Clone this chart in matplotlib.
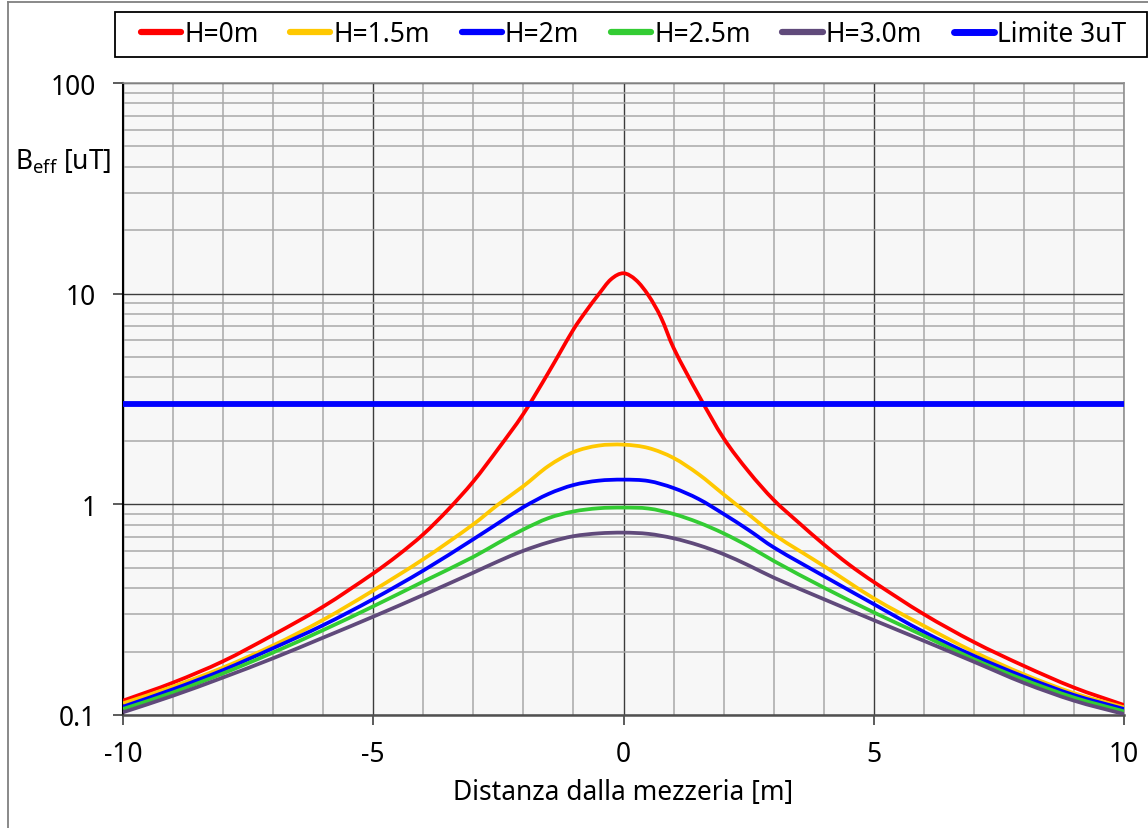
import matplotlib
matplotlib.use("Agg")
import numpy as np
import matplotlib.pyplot as plt
from matplotlib.lines import Line2D
from matplotlib.patches import Rectangle, PathPatch
from matplotlib.path import Path
from matplotlib.ticker import LogLocator, MultipleLocator, FixedLocator

plt.rcParams['font.family'] = ['Noto Sans', 'DejaVu Sans']

# ---- data ----
x_red = [-10, -9, -8, -7, -6, -5, -4.5, -4, -3.5, -3, -2.5, -2, -1.5, -1, -0.75, -0.5, -0.25,
         0, 0.25, 0.5, 0.75, 1, 1.5, 2, 2.5, 3, 3.5, 4, 4.5, 5, 6, 7, 8, 9, 10]
h0 = [0.117, 0.1425, 0.180, 0.240, 0.327, 0.47, 0.575, 0.721, 0.946, 1.285, 1.84, 2.69, 4.22,
      6.76, 8.25, 9.9, 11.7, 12.5, 11.6, 9.8, 7.7, 5.53, 3.30, 2.06, 1.43, 1.05, 0.819, 0.646,
      0.519, 0.428, 0.301, 0.222, 0.171, 0.135, 0.1115]

x_other = [-10, -9, -8, -7, -6, -5, -4, -3, -2.5, -2, -1.5, -1, -0.5, 0, 0.5, 1, 1.5, 2,
           2.5, 3, 4, 5, 6, 7, 8, 9, 10]
h15 = [0.1136, 0.1365, 0.168, 0.214, 0.283, 0.39, 0.549, 0.804, 1.0, 1.22, 1.52, 1.77, 1.90,
       1.92, 1.85, 1.66, 1.39, 1.115, 0.896, 0.721, 0.51, 0.358, 0.265, 0.1995, 0.156, 0.127, 0.1087]
h2 = [0.1095, 0.1325, 0.1634, 0.2077, 0.267, 0.355, 0.485, 0.683, 0.815, 0.97, 1.12, 1.235, 1.295,
      1.31, 1.29, 1.195, 1.06, 0.90, 0.755, 0.625, 0.457, 0.336, 0.248, 0.191, 0.152, 0.1244, 0.1068]
h25 = [0.1068, 0.128, 0.1576, 0.198, 0.253, 0.328, 0.43, 0.563, 0.657, 0.76, 0.86, 0.925,
       0.958, 0.965, 0.955, 0.90, 0.82, 0.728, 0.632, 0.539, 0.403, 0.307, 0.238, 0.184, 0.147,
       0.121, 0.104]
h3 = [0.103, 0.1235, 0.1507, 0.186, 0.233, 0.293, 0.3715, 0.474, 0.537, 0.602, 0.66, 0.706, 0.728,
      0.734, 0.724, 0.69, 0.64, 0.58, 0.513, 0.449, 0.355, 0.282, 0.225, 0.179, 0.142, 0.117, 0.101]

limit_x = [-10, 10]
limit_y = [3, 3]

labels = ['H=0m', 'H=1.5m', 'H=2m', 'H=2.5m', 'H=3.0m', 'Limite 3uT']
colors = ['#ff0000', '#ffc800', '#0000ff', '#33cc33', '#604a7b', '#0000ff']

x_ticks = [-10, -5, 0, 5, 10]
y_ticks = [0.1, 1, 10, 100]
y_ticklabels = ['0.1', '1', '10', '100']


def smooth_path(xs, ys):
    """Smoothed line (like a spreadsheet 'smooth line') through the data points,
    built as cubic Bezier segments in (x, log10 y) space."""
    x = np.asarray(xs, float)
    l = np.log10(np.asarray(ys, float))
    n = len(x)
    m = np.empty(n)
    m[0] = (l[1] - l[0]) / (x[1] - x[0])
    m[-1] = (l[-1] - l[-2]) / (x[-1] - x[-2])
    for i in range(1, n - 1):
        m[i] = (l[i + 1] - l[i - 1]) / (x[i + 1] - x[i - 1])
    verts = [(x[0], l[0])]
    codes = [Path.MOVETO]
    for i in range(n - 1):
        dx = x[i + 1] - x[i]
        verts += [(x[i] + dx / 3, l[i] + m[i] * dx / 3),
                  (x[i + 1] - dx / 3, l[i + 1] - m[i + 1] * dx / 3),
                  (x[i + 1], l[i + 1])]
        codes += [Path.CURVE4] * 3
    v = np.array(verts)
    v[:, 1] = 10 ** v[:, 1]
    return Path(v, codes)


# ---- figure ----
W, H = 1148, 829
fig = plt.figure(figsize=(W / 100, H / 100), dpi=100)
fig.patch.set_facecolor('white')

ax = fig.add_axes([123 / W, 1 - 716 / H, (1124 - 123) / W, (716 - 84) / H])
ax.set_facecolor('#f7f7f7')
ax.set_yscale('log')
ax.set_xlim(-10, 10)
ax.set_ylim(0.1, 100)

# grid
ax.xaxis.set_major_locator(FixedLocator(x_ticks))
ax.xaxis.set_minor_locator(MultipleLocator(1))
ax.yaxis.set_major_locator(FixedLocator(y_ticks))
ax.yaxis.set_minor_locator(LogLocator(base=10, subs=[2, 3, 4, 5, 6, 7, 8, 9], numticks=20))
ax.grid(which='minor', color='#a8a8a8', lw=1.1, zorder=0)
ax.grid(which='major', color='#3c3c3c', lw=1.0, zorder=0)
ax.set_axisbelow(True)

ax.set_xticks(x_ticks)
ax.set_xticklabels([str(v) for v in x_ticks])
ax.set_yticks(y_ticks)
ax.set_yticklabels(y_ticklabels)
ax.tick_params(which='minor', length=0)
ax.tick_params(which='major', length=7.2, width=1.2, direction='out', labelsize=19,
               color='#404040')
ax.tick_params(axis='y', pad=12)
ax.tick_params(axis='x', pad=11)

for s in ['top', 'right']:
    ax.spines[s].set_color('#909090')
    ax.spines[s].set_linewidth(1.2)
ax.spines['left'].set_color('#000000')
ax.spines['left'].set_linewidth(1.5)
ax.spines['bottom'].set_color('#505050')
ax.spines['bottom'].set_linewidth(1.8)

# curves
lw = 2.7
series = [(x_red, h0), (x_other, h15), (x_other, h2), (x_other, h25), (x_other, h3)]
for (xs, ys), c in zip(series, colors[:5]):
    ax.add_patch(PathPatch(smooth_path(xs, ys), fill=False, edgecolor=c, lw=lw,
                           capstyle='butt', joinstyle='round', zorder=3))
ax.plot(limit_x, limit_y, color=colors[5], lw=4.2, zorder=4)

# legend (manual frame)
fig.patches.append(Rectangle((115 / W, 1 - 58 / H), (1147 - 115) / W, 45 / H,
                             transform=fig.transFigure, facecolor='white',
                             edgecolor='black', lw=1.3, zorder=1))
handles = [Line2D([], [], color=c, lw=4.5 if i < 5 else 5, solid_capstyle='round')
           for i, c in enumerate(colors)]
leg = fig.legend(handles, labels, loc='center', bbox_to_anchor=(633.5 / W, 1 - 35.5 / H),
                 ncol=6, frameon=False, fontsize=19, handlelength=1.52,
                 handletextpad=0.12, columnspacing=1.2, borderpad=0.2)
leg.set_zorder(2)

# axis labels
fig.text(15 / W, 1 - 162 / H, r'B$_{\mathregular{eff}}$ [uT]', fontsize=19,
         ha='left', va='center')
fig.text(623 / W, 1 - 793 / H, 'Distanza dalla mezzeria [m]', fontsize=19,
         ha='center', va='center')

# outer border of the chart area
fig.lines.append(Line2D([8 / W, 8 / W], [0, 1 - 3 / H], transform=fig.transFigure,
                        color='#808080', lw=1.3))
fig.lines.append(Line2D([8 / W, 1], [1 - 3 / H, 1 - 3 / H], transform=fig.transFigure,
                        color='#808080', lw=1.3))

fig.savefig('out.png', dpi=100)
